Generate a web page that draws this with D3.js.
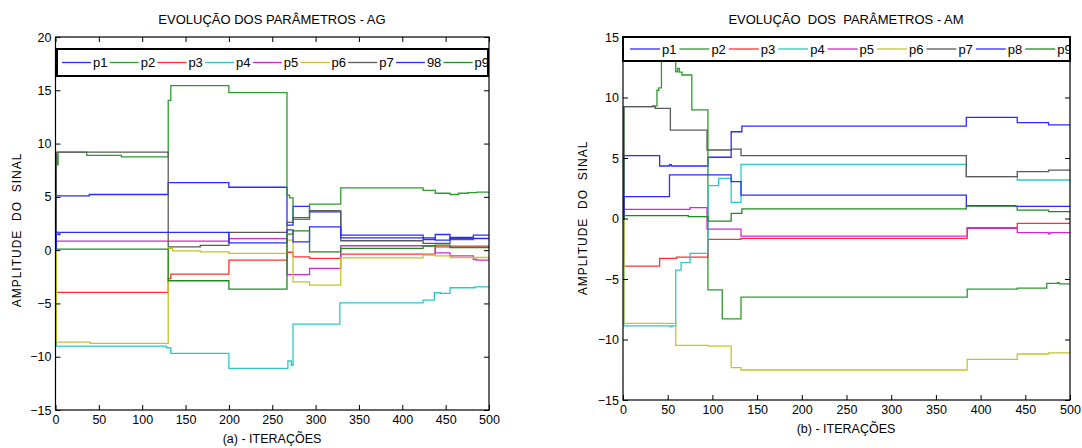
<!DOCTYPE html>
<html>
<head>
<meta charset="utf-8">
<script src="https://cdn.jsdelivr.net/npm/d3@7"></script>
<style>
  body { margin: 0; background: #fff; }
  text { font-family: "Liberation Sans", Arial, sans-serif; white-space: pre; }
</style>
</head>
<body>
<svg id="chart" width="1082" height="448"></svg>
<script>
// ---- data: [iteration, value] change points (step after) ----
const iterTicks = [0, 50, 100, 150, 200, 250, 300, 350, 400, 450, 500];
const agYTicks = [-15, -10, -5, 0, 5, 10, 15, 20];
const amYTicks = [-15, -10, -5, 0, 5, 10, 15];

const agLegend = ['p1', 'p2', 'p3', 'p4', 'p5', 'p6', 'p7', '98', 'p9'];
const amLegend = ['p1', 'p2', 'p3', 'p4', 'p5', 'p6', 'p7', 'p8', 'p9'];

// AG
const agP1 = [[0,0],[1,5.09],[39,5.22],[130,6.34],[200,5.9],[267,2.35],[274,4.1],[293,3.59],[329,1.41],[424,1.0],[438,1.47],[455,1.09],[482,1.41],[500,1.41]];
const agP2 = [[0,0],[1,9.0],[2,8.0],[3,9.2],[36,8.9],[76,8.75],[130,14.06],[133,15.43],[200,14.78],[267,5.16],[270,4.9],[274,2.88],[293,4.31],[329,5.84],[424,5.6],[438,5.34],[455,5.22],[465,5.34],[476,5.4],[486,5.44],[500,5.44]];
const agP3 = [[0,0],[1,-3.97],[130,-2.66],[133,-2.25],[200,-0.94],[267,-0.2],[274,-0.63],[293,-0.78],[329,-0.37],[438,0.3],[455,0.38],[500,0.38]];
const agP4 = [[0,0],[1,-9.0],[128,-9.16],[133,-9.69],[200,-11.1],[268,-10.4],[272,-10.8],[274,-6.94],[328,-4.94],[424,-4.69],[437,-4.0],[444,-4.06],[455,-3.53],[484,-3.44],[500,-3.44]];
const agP5 = [[0,0],[1,0.84],[200,1.09],[267,-2.3],[293,-1.72],[329,0.41],[438,-0.25],[455,-0.53],[482,-0.88],[486,-0.94],[500,-0.94]];
const agP6 = [[0,0],[1,-8.63],[40,-8.75],[130,0.16],[135,-0.06],[167,-0.16],[200,-0.31],[267,0.94],[274,-2.97],[293,-3.28],[329,-0.72],[424,-0.47],[438,-0.53],[455,-0.69],[500,-0.69]];
const agP7 = [[0,0],[1,9.19],[130,0.31],[167,0.45],[200,1.66],[267,2.6],[274,3.06],[293,3.7],[329,0.88],[424,0.63],[455,1.0],[482,1.09],[500,1.09]];
const agP8 = [[0,0],[1,1.7],[3,1.45],[5,1.66],[200,0.69],[267,1.9],[274,0.78],[293,2.19],[329,1.16],[438,0.94],[455,1.2],[482,1.1],[500,1.1]];
const agP9 = [[0,0],[1,0.09],[130,-2.87],[200,-3.66],[267,1.5],[274,1.81],[293,-0.16],[329,0.16],[424,0.38],[438,0.47],[455,0.25],[500,0.25]];

// AM
const amP1 = [[0,0],[1,5.19],[41,4.34],[52,4.45],[54,4.34],[95,5.06],[121,7.17],[133,7.64],[384,8.36],[441,7.92],[476,7.73],[500,7.73]];
const amP2 = [[0,0],[1,9.24],[33,9.3],[38,10.6],[40,10.8],[43,16],[59,12.13],[61,12.4],[63,12.1],[66,11.86],[77,8.97],[95,-5.9],[111,-8.3],[132,-6.5],[385,-5.83],[441,-5.75],[474,-5.36],[486,-5.3],[488,-5.4],[500,-5.4]];
const amP3 = [[0,0],[1,-3.93],[41,-3.29],[60,-3.2],[95,-1.72],[132,-1.64],[385,-0.75],[441,-0.4],[500,-0.4]];
const amP4 = [[0,0],[1,-8.88],[53,-8.95],[55,-8.88],[59,-4.26],[65,-3.65],[75,-2.88],[95,2.71],[107,3.32],[121,1.34],[132,4.48],[384,3.46],[441,3.18],[500,3.18]];
const amP5 = [[0,0],[1,0.76],[75,0.9],[94,-0.87],[132,-1.45],[385,-0.82],[441,-1.17],[476,-1.27],[478,-1.17],[500,-1.17]];
const amP6 = [[0,0],[1,-8.66],[59,-10.48],[95,-10.55],[121,-12.33],[132,-12.52],[385,-11.64],[441,-11.2],[476,-11.1],[500,-11.1]];
const amP7 = [[0,0],[1,9.24],[36,9.1],[53,7.31],[94,5.66],[121,5.74],[132,5.19],[384,3.46],[441,3.87],[476,4.0],[500,4.0]];
const amP8 = [[0,0],[1,1.8],[52,3.6],[121,3.04],[132,1.94],[384,1.06],[439,1.0],[500,1.0]];
const amP9 = [[0,0],[1,0.23],[73,0.15],[95,-0.21],[121,0.43],[133,0.79],[384,1.03],[441,0.7],[476,0.56],[500,0.56]];

const colors = ['#2b2bff', '#2e9a2e', '#ff3030', '#2cc8c8', '#cc2ccc', '#c4c42a', '#5a5a5a', '#2b2bff', '#1f8a1f'];

const svg = d3.select('#chart');

function drawPanel(cfg) {
  const x = d3.scaleLinear().domain([0, 500]).range([cfg.left, cfg.right]);
  const y = d3.scaleLinear().domain(cfg.yDomain).range([cfg.bottom, cfg.top]);
  const g = svg.append('g');

  g.append('clipPath').attr('id', cfg.id + '-clip')
    .append('rect')
    .attr('x', cfg.left).attr('y', cfg.top)
    .attr('width', cfg.right - cfg.left).attr('height', cfg.bottom - cfg.top);

  // lines
  const line = d3.line().curve(d3.curveStepAfter).x(d => x(d[0])).y(d => y(d[1]));
  const lines = g.append('g').attr('clip-path', `url(#${cfg.id}-clip)`);
  cfg.series.forEach((s, i) => {
    lines.append('path').attr('d', line(s))
      .attr('fill', 'none').attr('stroke', colors[i]).attr('stroke-width', 1.3);
  });

  // axes with inward ticks
  const bottom = g.append('g').attr('transform', `translate(0,${cfg.bottom})`)
    .call(d3.axisBottom(x).tickValues(iterTicks).tickSizeInner(-5).tickSizeOuter(0).tickPadding(5));
  const leftAx = g.append('g').attr('transform', `translate(${cfg.left},0)`)
    .call(d3.axisLeft(y).tickValues(cfg.yTicks).tickSizeInner(-5).tickSizeOuter(0).tickPadding(4));
  const topAx = g.append('g').attr('transform', `translate(0,${cfg.top})`)
    .call(d3.axisTop(x).tickValues(iterTicks).tickSizeInner(-5).tickSizeOuter(0).tickFormat(''));
  const rightAx = g.append('g').attr('transform', `translate(${cfg.right},0)`)
    .call(d3.axisRight(y).tickValues(cfg.yTicks).tickSizeInner(-5).tickSizeOuter(0).tickFormat(''));
  [bottom, leftAx, topAx, rightAx].forEach(a => {
    a.select('.domain').remove();
    a.selectAll('line').attr('stroke', '#000');
    a.selectAll('text').attr('font-size', 12.5).attr('fill', '#000')
      .style('font-family', '"Liberation Sans", Arial, sans-serif');
  });

  // frame
  g.append('rect')
    .attr('x', cfg.left).attr('y', cfg.top)
    .attr('width', cfg.right - cfg.left).attr('height', cfg.bottom - cfg.top)
    .attr('fill', 'none').attr('stroke', '#000').attr('stroke-width', 1.2);

  // legend
  const lg = g.append('g');
  lg.append('rect')
    .attr('x', cfg.legend.x0).attr('y', cfg.legend.y0)
    .attr('width', cfg.legend.x1 - cfg.legend.x0).attr('height', cfg.legend.y1 - cfg.legend.y0)
    .attr('fill', '#fff').attr('stroke', '#000').attr('stroke-width', 2);
  lg.append('clipPath').attr('id', cfg.id + '-lclip')
    .append('rect')
    .attr('x', cfg.legend.x0).attr('y', cfg.legend.y0)
    .attr('width', cfg.legend.x1 - cfg.legend.x0).attr('height', cfg.legend.y1 - cfg.legend.y0);
  const items = lg.append('g').attr('clip-path', `url(#${cfg.id}-lclip)`);
  const ly = (cfg.legend.y0 + cfg.legend.y1) / 2;
  cfg.labels.forEach((lab, i) => {
    const lx = cfg.legend.start + i * cfg.legend.step;
    items.append('line')
      .attr('x1', lx).attr('x2', lx + cfg.legend.len)
      .attr('y1', ly).attr('y2', ly)
      .attr('stroke', colors[i]).attr('stroke-width', 1.3);
    items.append('text')
      .attr('x', lx + cfg.legend.len + 2).attr('y', ly + 4.5)
      .attr('font-size', 13).text(lab);
  });

  // titles
  g.append('text').attr('x', cfg.titleX).attr('y', 24)
    .attr('text-anchor', 'middle').attr('font-size', 13).text(cfg.title);
  g.append('text').attr('x', cfg.titleX).attr('y', cfg.bottom + 33)
    .attr('text-anchor', 'middle').attr('font-size', 12.5).text(cfg.xLabel);
  g.append('text')
    .attr('transform', `translate(${cfg.yLabelX},${cfg.yLabelY}) rotate(-90)`)
    .attr('text-anchor', 'middle').attr('font-size', 12)
    .attr('letter-spacing', 1).text('AMPLITUDE  DO  SINAL');
}

drawPanel({
  id: 'ag', left: 55.5, right: 489, top: 37, bottom: 410,
  yDomain: [-15, 20], yTicks: agYTicks,
  series: [agP1, agP2, agP3, agP4, agP5, agP6, agP7, agP8, agP9],
  labels: agLegend,
  legend: { x0: 57, x1: 488, y0: 49, y1: 76, start: 62, step: 47.7, len: 29 },
  title: 'EVOLUÇÃO DOS PARÂMETROS - AG', titleX: 272,
  xLabel: '(a) - ITERAÇÕES', yLabelX: 21, yLabelY: 230
});

drawPanel({
  id: 'am', left: 623, right: 1070, top: 37, bottom: 400,
  yDomain: [-15, 15], yTicks: amYTicks,
  series: [amP1, amP2, amP3, amP4, amP5, amP6, amP7, amP8, amP9],
  labels: amLegend,
  legend: { x0: 623, x1: 1070, y0: 37, y1: 61, start: 630, step: 49.4, len: 30 },
  title: 'EVOLUÇÃO  DOS  PARÂMETROS - AM', titleX: 846,
  xLabel: '(b) - ITERAÇÕES', yLabelX: 587, yLabelY: 218
});
</script>
</body>
</html>
